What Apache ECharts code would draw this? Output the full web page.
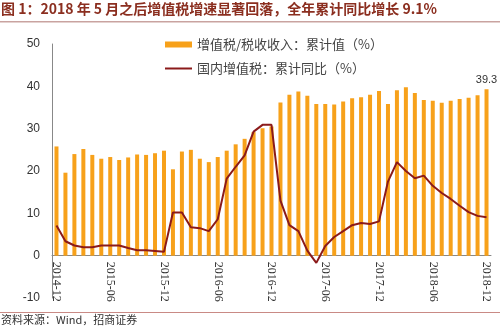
<!DOCTYPE html>
<html>
<head>
<meta charset="utf-8">
<script src="https://cdn.jsdelivr.net/npm/echarts@6/dist/echarts.min.js"></script>
<style>
html,body{margin:0;padding:0;background:#fff;}
#c{width:500px;height:328px;}
</style>
</head>
<body>
<div id="c"></div>
<script>
const titleText = '图 1：2018 年 5 月之后增值税增速显著回落，全年累计同比增长 9.1%';
const sourceText = '资料来源：Wind，招商证券';
const barName = '增值税/税收收入：累计值（%）';
const lineName = '国内增值税：累计同比（%）';

const months = [
 '2014-12','2015-01','2015-02','2015-03','2015-04','2015-05','2015-06','2015-07','2015-08','2015-09','2015-10','2015-11',
 '2015-12','2016-01','2016-02','2016-03','2016-04','2016-05','2016-06','2016-07','2016-08','2016-09','2016-10','2016-11',
 '2016-12','2017-01','2017-02','2017-03','2017-04','2017-05','2017-06','2017-07','2017-08','2017-09','2017-10','2017-11',
 '2017-12','2018-01','2018-02','2018-03','2018-04','2018-05','2018-06','2018-07','2018-08','2018-09','2018-10','2018-11',
 '2018-12'
];

const vatShare = [
 25.8,19.6,24.0,25.2,23.8,22.9,23.3,22.6,23.2,23.9,23.8,24.2,
 24.8,20.4,24.6,25.0,22.9,22.1,23.3,24.8,26.3,27.6,29.2,30.1,
 30.5,36.2,38.0,38.8,37.8,35.8,35.8,35.7,36.4,37.2,37.4,38.0,
 38.9,35.8,39.1,39.8,38.4,36.8,36.6,36.1,36.6,37.0,37.3,37.9,
 39.3
];

const vatYoY = [
 7.1,3.4,2.4,2.0,2.0,2.4,2.4,2.4,1.8,1.3,1.3,1.1,
 0.9,10.2,10.2,6.7,6.5,5.8,8.6,18.2,21.0,23.7,29.3,30.9,
 30.9,13.0,7.2,5.8,1.2,-1.7,2.3,4.4,5.8,7.2,7.7,7.5,
 8.1,17.5,22.1,20.0,18.3,18.9,16.5,14.8,13.4,11.8,10.3,9.4,
 9.1
];

const yMin = -10, yMax = 50;
const gridTop = 44, gridBottom = 30;
const plotH = 328 - gridTop - gridBottom;
const zeroOffset = -plotH * (0 - yMin) / (yMax - yMin);

const chart = echarts.init(document.getElementById('c'), null, {renderer:'canvas'});
const lastIdx = vatShare.length - 1;
const barData = vatShare.map((v,i)=> i===lastIdx ? {value:v, label:{show:true, position:'top', distance:4, color:'#333', fontSize:11, fontFamily:'Liberation Sans'}} : v);

chart.setOption({
  animation:false,
  graphic:[
    {type:'text', left:1, top:2, style:{text:titleText, fill:'#8B2E1F', font:'bold 14px "Noto Sans CJK SC"'}},
    {type:'rect', shape:{x:0,y:21,width:500,height:1.5}, style:{fill:'#C9A3A0'}},
    {type:'rect', shape:{x:0,y:312,width:500,height:1}, style:{fill:'#C98A85'}},
    {type:'text', left:1, top:314, style:{text:sourceText, fill:'#333', font:'11px "Noto Sans CJK SC"'}}
  ],
  legend:{
    orient:'vertical', left:159, top:33, itemGap:11,
    itemWidth:27, itemHeight:6,
    textStyle:{fontSize:13, color:'#444', fontFamily:'"Noto Sans CJK SC"'},
    data:[
      {name:barName, icon:'rect'},
      {name:lineName, itemStyle:{opacity:0}}
    ]
  },
  grid:{left:52, right:9, top:gridTop, bottom:gridBottom, outerBoundsMode:'none', containLabel:false},
  xAxis:{
    type:'category', data:months, boundaryGap:true,
    offset: zeroOffset,
    axisLine:{show:true, onZero:false, lineStyle:{color:'#888', width:1}},
    axisTick:{show:false},
    axisLabel:{interval:5, rotate:-90, margin:6, fontSize:12, color:'#333', fontFamily:'Liberation Serif'}
  },
  yAxis:{
    type:'value', min:yMin, max:yMax, interval:10,
    axisLine:{show:true, lineStyle:{color:'#888'}},
    axisTick:{show:false},
    splitLine:{show:false},
    axisLabel:{fontSize:12, color:'#333', margin:12, fontFamily:'Liberation Sans'}
  },
  series:[
    {name:barName, type:'bar', data:barData, barWidth:4, itemStyle:{color:'#F7A11A'}},
    {name:lineName, type:'line', data:vatYoY, symbol:'none', lineStyle:{color:'#8B1A1A', width:2}, itemStyle:{color:'#8B1A1A'}}
  ]
});
</script>
</body>
</html>
